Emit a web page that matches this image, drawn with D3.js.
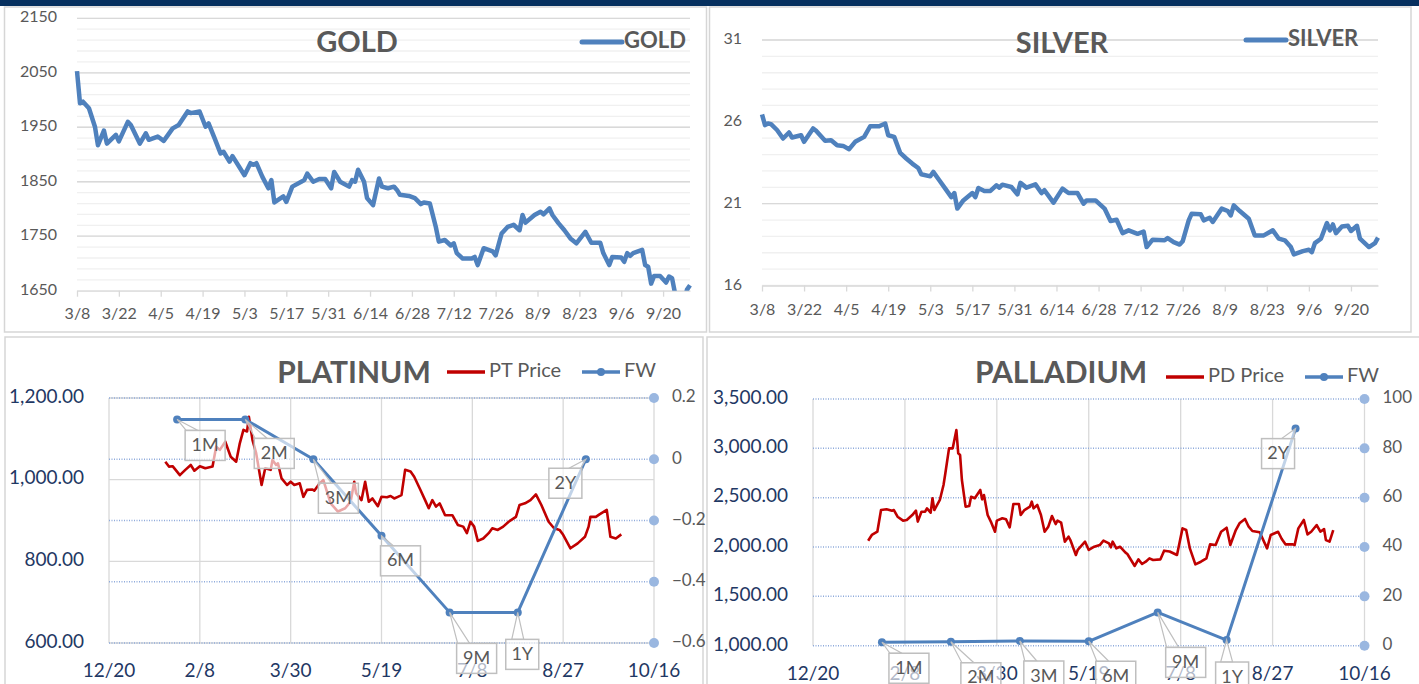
<!DOCTYPE html>
<html>
<head>
<meta charset="utf-8">
<script src="https://cdn.jsdelivr.net/npm/d3@7"></script>
<style>
  body { margin: 0; background: #fff; }
  svg { display: block; }
  text { font-family: Lato, "Open Sans", sans-serif; }
</style>
</head>
<body>
<div id="main"></div>
<script>
// ---- data ----
// top charts: x = days after 2022-03-08
const topStart = "2022-03-08"
const topEnd = "2022-09-29"
const topTicks = ["2022-03-08","2022-03-22","2022-04-05","2022-04-19","2022-05-03","2022-05-17","2022-05-31",
  "2022-06-14","2022-06-28","2022-07-12","2022-07-26","2022-08-09","2022-08-23","2022-09-06","2022-09-20"]

const goldDay = [0,1,2,4,6,7,9,10,13,14,17,18,21,23,24,27,29,32,34,37,38,41,43,44,46,48,49,51,52,56,58,59,60,62,64,65,66,69,70,72,75,76,77,79,81,83,85,86,88,91,92,93,94,96,97,99,101,102,104,106,107,108,111,113,115,116,118,120,121,123,125,126,127,129,132,133,134,136,139,140,142,144,146,148,149,150,153,155,156,158,159,161,163,165,167,170,172,175,176,178,179,182,183,184,185,186,189,190,191,192,193,195,197,198,199,200,202,203,204,205]
const goldPrice = [2053,1994,1997,1985,1951,1917,1944,1920,1936,1924,1960,1954,1920,1939,1927,1933,1925,1948,1954,1979,1976,1979,1951,1957,1930,1902,1905,1887,1897,1862,1884,1881,1884,1859,1838,1853,1812,1823,1813,1841,1850,1853,1865,1850,1855,1855,1838,1868,1850,1841,1853,1850,1872,1850,1820,1807,1856,1841,1838,1841,1835,1826,1824,1820,1809,1812,1810,1767,1740,1743,1733,1737,1719,1709,1709,1712,1697,1728,1722,1715,1755,1767,1771,1761,1789,1775,1789,1795,1790,1801,1789,1774,1761,1746,1737,1758,1738,1738,1719,1697,1712,1711,1703,1719,1714,1719,1725,1697,1694,1663,1677,1677,1665,1676,1673,1645,1625,1630,1652,1660]
const goldTicks = [1650, 1750, 1850, 1950, 2050, 2150]

const silverDay = [0,1,2,3,5,7,9,10,13,14,17,18,21,23,25,27,29,31,34,36,39,41,42,44,46,48,50,52,53,56,57,59,61,63,64,65,67,70,71,72,74,76,78,79,80,83,85,86,88,91,93,94,97,100,102,105,107,108,111,114,116,118,120,122,125,127,128,130,134,135,137,139,140,142,143,146,147,149,150,153,155,156,157,159,162,164,167,169,170,172,174,176,177,180,182,183,184,186,188,189,190,191,193,195,196,198,199,202,204,205]
const silverPrice = [26.45,25.8,25.9,25.86,25.5,24.98,25.35,25.04,25.18,24.78,25.6,25.45,24.84,24.88,24.57,24.53,24.33,24.78,25.08,25.73,25.73,25.9,25.18,25.08,24.1,23.76,23.45,23.18,22.8,22.67,22.94,22.43,21.92,21.4,21.65,20.7,21.2,21.65,21.4,21.96,21.78,21.78,22.12,21.98,22.16,22.02,21.57,22.27,21.98,22.18,21.65,21.82,21.06,21.92,21.65,21.65,21.0,21.2,21.2,20.7,19.94,20.02,19.2,19.37,19.16,19.3,18.35,18.8,18.76,18.9,18.65,18.5,18.7,19.98,20.39,20.35,19.98,20.14,19.88,20.7,20.55,20.28,20.9,20.55,20.08,19.06,19.06,19.27,19.37,18.86,18.76,18.35,17.9,18.1,18.18,18.04,18.59,18.86,19.82,19.37,19.73,19.2,19.6,19.65,19.33,19.65,18.86,18.35,18.59,18.92]
const silverTicks = [16, 21, 26, 31]

// bottom charts: x = days after 2021-12-20
const bottomStart = "2021-12-20"
const bottomEnd = "2022-10-16"
const bottomTicks = ["2021-12-20","2022-02-08","2022-03-30","2022-05-19","2022-07-08","2022-08-27","2022-10-16"]

const ptDay = [31,33,35,39,42,45,47,50,53,57,59,61,64,67,70,72,74,76,77,79,81,84,86,89,90,92,93,95,98,100,102,105,107,109,112,113,116,118,122,126,130,133,135,136,139,141,143,145,148,150,153,155,157,159,161,163,166,168,171,174,176,178,180,182,185,189,192,195,197,199,201,203,206,209,211,214,217,220,224,226,229,232,235,238,242,245,248,250,254,258,262,264,265,268,270,274,276,279,282]
const ptPrice = [1044,1032,1033,1011,1024,1036,1022,1033,1028,1032,1081,1073,1093,1056,1044,1089,1122,1118,1154,1097,1065,987,1028,1024,1048,1036,1040,1003,987,995,987,991,958,975,976,973,991,999,942,922,930,946,995,967,950,995,946,954,935,958,957,960,954,958,962,1024,1020,1007,979,950,930,950,934,942,913,913,889,885,869,897,885,850,856,869,881,877,885,897,909,938,942,950,964,938,897,881,877,865,832,844,860,885,909,909,915,926,860,856,866]

const pdDay = [30,32,35,37,40,43,44,46,49,51,54,56,57,59,61,62,64,65,66,69,71,72,74,76,78,79,80,81,83,85,86,88,91,92,93,95,97,99,100,103,105,107,109,112,113,115,118,119,120,122,124,126,128,130,132,133,135,137,139,140,143,144,148,150,153,156,158,161,162,163,165,167,170,171,175,177,179,181,183,185,189,191,194,198,201,203,205,208,211,214,216,219,222,225,227,230,232,235,237,239,243,247,249,253,255,257,261,262,264,267,269,271,274,276,278,279,281,283]
const pdPrice = [2064,2122,2155,2375,2382,2368,2375,2307,2267,2274,2324,2368,2257,2358,2358,2392,2348,2494,2375,2477,2628,2747,3000,3000,3186,2950,2933,2679,2409,2416,2510,2494,2578,2483,2527,2324,2247,2155,2267,2291,2281,2199,2436,2436,2324,2375,2409,2460,2392,2426,2324,2155,2206,2314,2233,2267,2247,2054,2105,2071,1919,1970,2054,1970,2003,2020,2064,2037,1997,2054,1987,2003,1943,1929,1808,1875,1828,1851,1885,1868,1875,1963,1955,1919,2189,2172,1986,1824,1851,1885,2027,2020,2155,2196,2020,2172,2240,2284,2206,2162,2149,1986,2122,2155,2081,2027,2027,2020,2189,2274,2128,2155,2223,2155,2182,2071,2054,2172]

const fwTenor = ["1M","2M","3M","6M","9M","1Y","2Y"]
const fwDay = [37.5, 75, 112.5, 150, 187.5, 225, 262.5]
const ptFw = [0.13, 0.13, 0, -0.25, -0.5, -0.5, 0]
const pdFw = [1.4, 1.6, 1.9, 1.8, 13.5, 2.3, 88]

const ptTicks = [600, 800, 1000, 1200]
const ptFwTicks = [-0.6, -0.4, -0.2, 0, 0.2]
const pdTicks = [1000, 1500, 2000, 2500, 3000, 3500]
const pdFwTicks = [0, 20, 40, 60, 80, 100]

// ---- helpers ----
const parse = d3.utcParse("%Y-%m-%d")
const fmt = d3.utcFormat("%-m/%-d")
const after = (base, n) => new Date(parse(base).getTime() + n * 864e5)
const grey = "#595959"
const navy = "#1f3864"
const blue = "#4f81bd"
const red = "#c00000"

const W = 1419, H = 684
const svg = d3.select('div#main').append('svg')
  .attr('width', W).attr('height', H)

svg.append('rect').attr('x', 0).attr('y', 0).attr('width', W).attr('height', 6).attr('fill', '#06305f')

// panel frames
const frames = [[4.5, 7, 702, 325], [709.5, 7, 701.5, 325], [5, 337, 698, 352], [707, 337, 714, 352]]
svg.selectAll('rect.frame').data(frames).join('rect')
  .attr('class', 'frame')
  .attr('x', d => d[0]).attr('y', d => d[1]).attr('width', d => d[2]).attr('height', d => d[3])
  .attr('fill', 'none').attr('stroke', '#d6d6d6').attr('stroke-width', 1.5)

// ---- top charts ----
function topChart(c) {
  const x = d3.scaleUtc().domain([parse(topStart), parse(topEnd)]).range([c.left, c.right])
  const y = d3.scaleLinear().domain([c.ticks[0], c.ticks[c.ticks.length - 1]]).range([c.bottom, c.top])
  const g = svg.append('g')

  g.selectAll('line.minor').data(d3.range(y.domain()[0], y.domain()[1] + 1e-9, c.minor)).join('line')
    .attr('x1', c.left).attr('x2', c.right)
    .attr('y1', d => y(d)).attr('y2', d => y(d))
    .attr('stroke', '#f0f0f0').attr('stroke-width', 1.3)
  g.selectAll('line.major').data(c.ticks.slice(1)).join('line')
    .attr('x1', c.left).attr('x2', c.right)
    .attr('y1', d => y(d)).attr('y2', d => y(d))
    .attr('stroke', '#d9d9d9').attr('stroke-width', 1.3)

  g.selectAll('text.ylab').data(c.ticks).join('text')
    .attr('x', c.left - 20).attr('y', d => y(d))
    .attr('text-anchor', 'end').attr('dominant-baseline', 'middle')
    .attr('fill', grey).attr('font-size', 16)
    .text(d => d)

  const ax = g.append('g').attr('transform', `translate(0,${c.bottom})`)
    .call(d3.axisBottom(x).tickValues(topTicks.map(parse)).tickFormat(fmt)
      .tickSize(6).tickSizeOuter(0).tickPadding(c.pad))
  ax.select('.domain').attr('stroke', '#d9d9d9').attr('stroke-width', 1.3)
  ax.selectAll('.tick line').attr('stroke', '#d9d9d9').attr('stroke-width', 1.3)
  ax.selectAll('.tick text').attr('fill', grey).attr('font-size', 16)
    .attr('font-family', 'Lato, sans-serif')

  const clipId = 'clip' + c.title
  g.append('clipPath').attr('id', clipId).append('rect')
    .attr('x', c.left - 5).attr('y', c.top - 10)
    .attr('width', c.right - c.left + 10).attr('height', c.bottom - c.top + 10)

  const pts = c.days.map((d, i) => [after(topStart, d), c.values[i]])
  const line = d3.line().x(d => x(d[0])).y(d => y(d[1]))
  g.append('path')
    .attr('d', line(pts))
    .attr('clip-path', `url(#${clipId})`)
    .attr('fill', 'none').attr('stroke', blue)
    .attr('stroke-width', 4.5).attr('stroke-linejoin', 'round')

  g.append('text').attr('x', c.titleX).attr('y', c.titleY)
    .attr('text-anchor', 'middle').attr('dominant-baseline', 'middle')
    .attr('font-size', 29).attr('font-weight', 700).attr('fill', grey)
    .text(c.title)

  g.append('line').attr('x1', c.legendX).attr('x2', c.legendX + 40)
    .attr('y1', c.legendY).attr('y2', c.legendY)
    .attr('stroke', blue).attr('stroke-width', 5).attr('stroke-linecap', 'round')
  g.append('text').attr('x', c.legendX + 42).attr('y', c.legendY)
    .attr('dominant-baseline', 'middle')
    .attr('font-size', 22).attr('font-weight', 700).attr('fill', grey)
    .text(c.title)
}

topChart({title: 'GOLD', left: 77, right: 690, top: 18.3, bottom: 290.7, pad: 11,
  ticks: goldTicks, minor: 20, days: goldDay, values: goldPrice,
  titleX: 357, titleY: 45, legendX: 582, legendY: 42})
topChart({title: 'SILVER', left: 762, right: 1378, top: 40, bottom: 285.5, pad: 12,
  ticks: silverTicks, minor: 1, days: silverDay, values: silverPrice,
  titleX: 1062, titleY: 46, legendX: 1246, legendY: 40})

// ---- bottom charts ----
function callout(g, px, py, bx, by, bw, bh, label) {
  const cx = Math.max(bx + 7, Math.min(bx + bw - 7, px))
  g.append('path')
    .attr('d', `M${px},${py}L${cx - 6},${by}L${cx + 6},${by}Z`)
    .attr('fill', '#fff').attr('fill-opacity', 0.6)
    .attr('stroke', '#bfbfbf').attr('stroke-width', 1.2)
  g.append('rect').attr('x', bx).attr('y', by).attr('width', bw).attr('height', bh)
    .attr('fill', '#fff').attr('fill-opacity', 0.65)
    .attr('stroke', '#bfbfbf').attr('stroke-width', 1.5)
  g.append('text').attr('x', bx + bw / 2).attr('y', by + bh / 2 + 1)
    .attr('text-anchor', 'middle').attr('dominant-baseline', 'middle')
    .attr('font-size', 18).attr('fill', grey)
    .text(label)
}

function bottomChart(c) {
  const x = d3.scaleUtc().domain([parse(bottomStart), parse(bottomEnd)]).range([c.left, c.right])
  const y = d3.scaleLinear().domain([c.ticks[0], c.ticks[c.ticks.length - 1]]).range([c.bottom, c.top])
  const y2 = d3.scaleLinear().domain([c.fwTicks[0], c.fwTicks[c.fwTicks.length - 1]]).range([c.bottom, c.top])
  const g = svg.append('g')

  // vertical grid
  g.selectAll('line.vg').data(bottomTicks.map(parse)).join('line')
    .attr('x1', d => x(d)).attr('x2', d => x(d))
    .attr('y1', c.top).attr('y2', c.bottom)
    .attr('stroke', '#d9d9d9').attr('stroke-width', 1.3)
  if (c.solidGrid) {
    g.selectAll('line.hg').data(c.ticks).join('line')
      .attr('x1', c.left).attr('x2', c.right)
      .attr('y1', d => y(d)).attr('y2', d => y(d))
      .attr('stroke', '#d9d9d9').attr('stroke-width', 1.3)
  }
  g.selectAll('line.dg').data(c.fwTicks).join('line')
    .attr('x1', c.left).attr('x2', c.right)
    .attr('y1', d => y2(d)).attr('y2', d => y2(d))
    .attr('stroke', '#8eaadb').attr('stroke-width', 1.5).attr('stroke-dasharray', '1,1.5')
  g.selectAll('circle.end').data(c.fwTicks).join('circle')
    .attr('cx', c.right).attr('cy', d => y2(d)).attr('r', 5)
    .attr('fill', '#9ab7e0')

  // axis labels
  g.selectAll('text.yl').data(c.ticks).join('text')
    .attr('x', c.left - 25).attr('y', d => y(d))
    .attr('text-anchor', 'end').attr('dominant-baseline', 'middle')
    .attr('font-size', 19).attr('fill', navy)
    .text(d => d3.format(',.2f')(d))
  g.selectAll('text.yr').data(c.fwTicks).join('text')
    .attr('x', c.right + 18).attr('y', d => y2(d))
    .attr('dominant-baseline', 'middle')
    .attr('font-size', 17).attr('fill', grey)
    .text(d => d3.format('~g')(d))
  g.selectAll('text.xl').data(bottomTicks.map(parse)).join('text')
    .attr('x', d => x(d)).attr('y', c.bottom + 34)
    .attr('text-anchor', 'middle')
    .attr('font-size', 19).attr('fill', navy)
    .text(fmt)

  // price line
  const price = c.days.map((d, i) => [after(bottomStart, d), c.values[i]])
  g.append('path')
    .attr('d', d3.line().x(d => x(d[0])).y(d => y(d[1]))(price))
    .attr('fill', 'none').attr('stroke', red)
    .attr('stroke-width', 2.6).attr('stroke-linejoin', 'round')

  // FW line
  const fw = fwDay.map((d, i) => [after(bottomStart, d), c.fw[i]])
  g.append('path')
    .attr('d', d3.line().x(d => x(d[0])).y(d => y2(d[1]))(fw))
    .attr('fill', 'none').attr('stroke', blue)
    .attr('stroke-width', 3).attr('stroke-linejoin', 'round')
  g.selectAll('circle.fw').data(fw).join('circle')
    .attr('cx', d => x(d[0])).attr('cy', d => y2(d[1])).attr('r', 4)
    .attr('fill', blue)

  // callouts
  fw.forEach((d, i) => {
    const px = x(d[0]), py = y2(d[1])
    const off = c.offsets[i]
    const bw = fwTenor[i].endsWith('Y') ? 33 : 40
    callout(g, px, py, px + off[0], py + off[1], bw, 30, fwTenor[i])
  })

  // title + legend
  g.append('text').attr('x', c.titleX).attr('y', c.titleY)
    .attr('text-anchor', 'middle').attr('dominant-baseline', 'middle')
    .attr('font-size', 30).attr('font-weight', 700).attr('fill', grey)
    .text(c.title)
  const lx = c.legendX, ly = c.legendY
  g.append('line').attr('x1', lx).attr('x2', lx + 38).attr('y1', ly).attr('y2', ly)
    .attr('stroke', red).attr('stroke-width', 3.5)
  g.append('text').attr('x', lx + 42).attr('y', ly).attr('dominant-baseline', 'middle')
    .attr('font-size', 20).attr('fill', grey).text(c.priceName)
  const fx = lx + c.fwGap
  g.append('line').attr('x1', fx).attr('x2', fx + 38).attr('y1', ly).attr('y2', ly)
    .attr('stroke', blue).attr('stroke-width', 3.5)
  g.append('circle').attr('cx', fx + 19).attr('cy', ly).attr('r', 4).attr('fill', blue)
  g.append('text').attr('x', fx + 42).attr('y', ly).attr('dominant-baseline', 'middle')
    .attr('font-size', 20).attr('fill', grey).text('FW')
}

bottomChart({title: 'PLATINUM', priceName: 'PT Price', left: 109, right: 654, top: 398, bottom: 643,
  ticks: ptTicks, fwTicks: ptFwTicks, solidGrid: true,
  days: ptDay, values: ptPrice, fw: ptFw,
  offsets: [[8, 11], [9, 19], [5, 24], [-1, 10], [7, 31], [-12, 27], [-37, 9]],
  titleX: 354, titleY: 375, legendX: 447, legendY: 372, fwGap: 135})

bottomChart({title: 'PALLADIUM', priceName: 'PD Price', left: 813, right: 1364.5, top: 399, bottom: 645.7,
  ticks: pdTicks, fwTicks: pdFwTicks, solidGrid: false,
  days: pdDay, values: pdPrice, fw: pdFw,
  offsets: [[7, 11], [10, 21], [4, 20], [7, 20], [8, 35], [-11, 22], [-34, 10]],
  titleX: 1061, titleY: 375, legendX: 1166, legendY: 377, fwGap: 139})
</script>
</body>
</html>
